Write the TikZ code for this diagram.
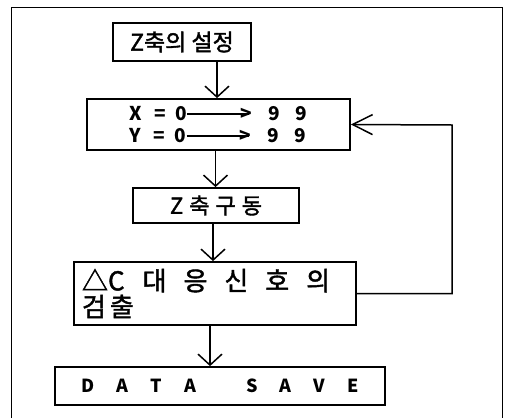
\documentclass[tikz,border=0pt]{standalone}
\usepackage{fontspec}
\setmainfont{Noto Sans CJK KR}
\newfontfamily\heavier[FakeBold=1.6]{Noto Sans CJK KR}
\usetikzlibrary{arrows.meta}
\newcommand{\goesto}{\rule[0.3em]{62pt}{1.3pt}\kern-9pt{>}}
\begin{document}
\begin{tikzpicture}[x=1pt, y=-1pt,
        stepbox/.style={draw, line width=1.8pt, inner sep=0pt, align=left},
        flow/.style={line width=1.5pt, -{Straight Barb[length=11pt, width=24pt, line width=1.5pt]}},
        back/.style={line width=1.5pt, -{Straight Barb[length=20pt, width=20pt, line width=1.5pt]}}]

            % the frame
            \useasboundingbox (0, 0) rectangle (508, 418);
            \draw[line width=1pt] (11, 418) -- (11, 7) -- (502, 7) -- (502, 418);

            % the boxes
            \node[stepbox, minimum width=138pt, minimum height=38pt, font=\fontsize{23}{26}\heavier] (axis) at (182, 42) {Z축의 설정};
            \node[stepbox, minimum width=263pt, minimum height=51pt, font=\fontsize{19}{22}\selectfont\bfseries] (scan) at (218.5, 124.5)
                {X\hspace{12pt}=\hspace{10pt}0\goesto\hspace{16pt}9\hspace{16pt}9\\
                 Y\hspace{12pt}=\hspace{10pt}0\goesto\hspace{16pt}9\hspace{16pt}9};
            \node[stepbox, minimum width=166pt, minimum height=35pt, font=\fontsize{22}{26}\heavier] (drive) at (216, 205.5)
                {Z\hspace{6pt}축\hspace{6pt}구\hspace{6pt}동};
            \node[stepbox, minimum width=282pt, minimum height=63pt, text width=266pt, font=\fontsize{26}{26}\heavier] (detect) at (215, 293.5)
                {△C\hspace{18pt}대\hspace{17pt}응\hspace{17pt}신\hspace{17pt}호\hspace{17pt}의\\검\hspace{4pt}출};
            \node[stepbox, minimum width=330pt, minimum height=38pt, font=\fontsize{18}{20}\selectfont\bfseries] (save) at (220, 386)
                {D\hspace{22pt}A\hspace{22pt}T\hspace{22pt}A\hspace{50pt}S\hspace{22pt}A\hspace{22pt}V\hspace{22pt}E};

            % the arrows
            \draw[flow] ([xshift=35pt]axis.south) -- ([xshift=35pt]axis.south |- scan.north);
            \draw[flow] ([xshift=-3pt]scan.south) -- ([xshift=-3pt]scan.south |- drive.north);
            \draw[flow] ([xshift=-3pt]drive.south) -- ([xshift=-3pt]drive.south |- detect.north);
            \draw[flow] ([xshift=-5pt]detect.south) -- ([xshift=-5pt]detect.south |- save.north);

            % loop back
            \coordinate (turn) at (452, 125);
            \draw[back] (detect.east) -| (turn) -- (scan.east);
        \end{tikzpicture}
\end{document}
